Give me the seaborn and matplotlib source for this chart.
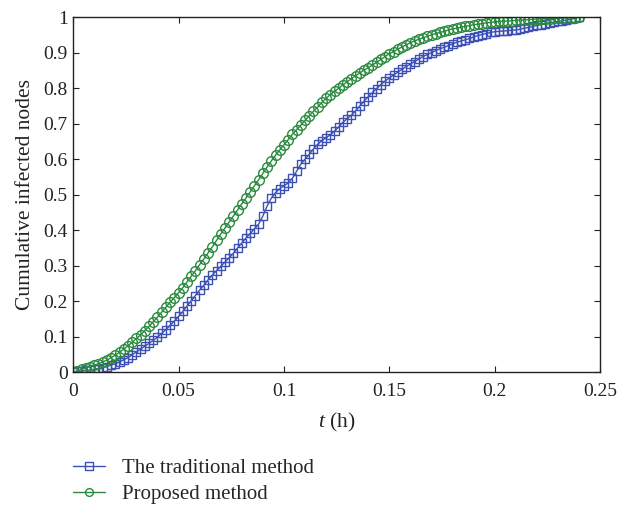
import numpy as np
import pandas as pd
import matplotlib
matplotlib.use("Agg")
import matplotlib.pyplot as plt
import seaborn as sns

t_hours = [
    0.000, 0.002, 0.004, 0.006, 0.008, 0.010, 0.012, 0.014, 0.016, 0.018,
    0.020, 0.022, 0.024, 0.026, 0.028, 0.030, 0.032, 0.034, 0.036, 0.038,
    0.040, 0.042, 0.044, 0.046, 0.048, 0.050, 0.052, 0.054, 0.056, 0.058,
    0.060, 0.062, 0.064, 0.066, 0.068, 0.070, 0.072, 0.074, 0.076, 0.078,
    0.080, 0.082, 0.084, 0.086, 0.088, 0.090, 0.092, 0.094, 0.096, 0.098,
    0.100, 0.102, 0.104, 0.106, 0.108, 0.110, 0.112, 0.114, 0.116, 0.118,
    0.120, 0.122, 0.124, 0.126, 0.128, 0.130, 0.132, 0.134, 0.136, 0.138,
    0.140, 0.142, 0.144, 0.146, 0.148, 0.150, 0.152, 0.154, 0.156, 0.158,
    0.160, 0.162, 0.164, 0.166, 0.168, 0.170, 0.172, 0.174, 0.176, 0.178,
    0.180, 0.182, 0.184, 0.186, 0.188, 0.190, 0.192, 0.194, 0.196, 0.198,
    0.200, 0.202, 0.204, 0.206, 0.208, 0.210, 0.212, 0.214, 0.216, 0.218,
    0.220, 0.222, 0.224, 0.226, 0.228, 0.230, 0.232, 0.234, 0.236, 0.238,
    0.240,
]

traditional = [
    0.000, 0.002, 0.003, 0.005, 0.006, 0.008, 0.010, 0.013, 0.016, 0.020,
    0.024, 0.029, 0.035, 0.041, 0.049, 0.057, 0.065, 0.073, 0.081, 0.090,
    0.099, 0.109, 0.120, 0.132, 0.144, 0.157, 0.171, 0.186, 0.201, 0.216,
    0.231, 0.245, 0.260, 0.274, 0.286, 0.298, 0.310, 0.322, 0.335, 0.350,
    0.364, 0.378, 0.391, 0.404, 0.417, 0.440, 0.468, 0.490, 0.506, 0.517,
    0.525, 0.533, 0.546, 0.566, 0.586, 0.600, 0.614, 0.629, 0.642, 0.652,
    0.660, 0.669, 0.679, 0.691, 0.704, 0.714, 0.724, 0.736, 0.750, 0.764,
    0.776, 0.788, 0.799, 0.810, 0.820, 0.829, 0.837, 0.845, 0.853, 0.861,
    0.868, 0.875, 0.882, 0.889, 0.895, 0.900, 0.906, 0.911, 0.915, 0.920,
    0.925, 0.929, 0.933, 0.936, 0.940, 0.944, 0.948, 0.951, 0.954, 0.957,
    0.959, 0.960, 0.961, 0.962, 0.963, 0.964, 0.966, 0.969, 0.971, 0.974,
    0.977, 0.979, 0.981, 0.984, 0.986, 0.988, 0.990, 0.992, 0.994, 0.997,
    1.000,
]

proposed = [
    0.000, 0.004, 0.008, 0.012, 0.016, 0.020, 0.024, 0.029, 0.034, 0.041,
    0.048, 0.056, 0.065, 0.074, 0.084, 0.095, 0.105, 0.117, 0.129, 0.142,
    0.155, 0.169, 0.183, 0.197, 0.210, 0.224, 0.238, 0.254, 0.270, 0.286,
    0.303, 0.319, 0.336, 0.353, 0.371, 0.389, 0.406, 0.423, 0.440, 0.457,
    0.474, 0.491, 0.508, 0.525, 0.542, 0.560, 0.578, 0.595, 0.611, 0.626,
    0.640, 0.655, 0.670, 0.683, 0.696, 0.709, 0.722, 0.735, 0.747, 0.760,
    0.771, 0.782, 0.791, 0.800, 0.809, 0.818, 0.827, 0.835, 0.843, 0.851,
    0.858, 0.865, 0.873, 0.881, 0.889, 0.897, 0.903, 0.910, 0.916, 0.922,
    0.928, 0.933, 0.938, 0.942, 0.946, 0.950, 0.954, 0.957, 0.960, 0.964,
    0.967, 0.969, 0.972, 0.974, 0.976, 0.979, 0.980, 0.982, 0.984, 0.985,
    0.987, 0.988, 0.989, 0.989, 0.990, 0.991, 0.992, 0.992, 0.993, 0.994,
    0.995, 0.995, 0.996, 0.996, 0.997, 0.997, 0.998, 0.998, 0.998, 0.999,
    1.000,
]

series_names = ["The traditional method", "Proposed method"]
x_ticks = [0, 0.05, 0.1, 0.15, 0.2, 0.25]
x_tick_labels = ["0", "0.05", "0.1", "0.15", "0.2", "0.25"]
y_ticks = [0, 0.1, 0.2, 0.3, 0.4, 0.5, 0.6, 0.7, 0.8, 0.9, 1.0]
y_tick_labels = ["0", "0.1", "0.2", "0.3", "0.4", "0.5", "0.6", "0.7", "0.8", "0.9", "1"]

sns.set_style("ticks")
plt.rcParams["font.family"] = ["Liberation Serif", "DejaVu Serif"]
plt.rcParams["mathtext.fontset"] = "custom"
plt.rcParams["mathtext.it"] = "Liberation Serif:italic"
plt.rcParams["mathtext.rm"] = "Liberation Serif"

fig = plt.figure(figsize=(6.2, 5.05), dpi=100)
ax = fig.add_axes([0.118, 0.263, 0.850, 0.703])

colors = ["#3c4fb2", "#2a8a3e"]
markers = ["s", "o"]
sizes = [6.4, 7.0]

for name, vals, c, m, ms in zip(series_names, [traditional, proposed], colors, markers, sizes):
    sns.lineplot(x=t_hours, y=vals, ax=ax, color=c, linewidth=1.0,
                 marker=m, markersize=ms, markerfacecolor="none",
                 markeredgecolor=c, markeredgewidth=1.0, label=name,
                 legend=False)

ax.set_xlim(0, 0.25)
ax.set_ylim(0, 1)
ax.set_xticks(x_ticks)
ax.set_xticklabels(x_tick_labels)
ax.set_yticks(y_ticks)
ax.set_yticklabels(y_tick_labels)
ax.tick_params(direction="in", length=4, width=0.8, top=True, right=True,
               labelsize=14, colors="#222222")
ax.tick_params(axis="x", pad=8)
ax.tick_params(axis="y", pad=4)
for sp in ax.spines.values():
    sp.set_visible(True)
    sp.set_linewidth(1.0)
    sp.set_color("#222222")

ax.set_xlabel(r"$t$ (h)", fontsize=15.5, color="#222222", labelpad=8)
ax.set_ylabel("Cumulative infected nodes", fontsize=15.5, color="#222222", labelpad=6)

handles, labels = ax.get_legend_handles_labels()
fig.legend(handles, labels, loc="upper left", bbox_to_anchor=(0.118, 0.092),
           frameon=False, fontsize=15, handlelength=1.55, handletextpad=0.8,
           labelspacing=0.3, borderpad=0, borderaxespad=0, markerscale=0.8)

fig.savefig("out.png", dpi=100)
